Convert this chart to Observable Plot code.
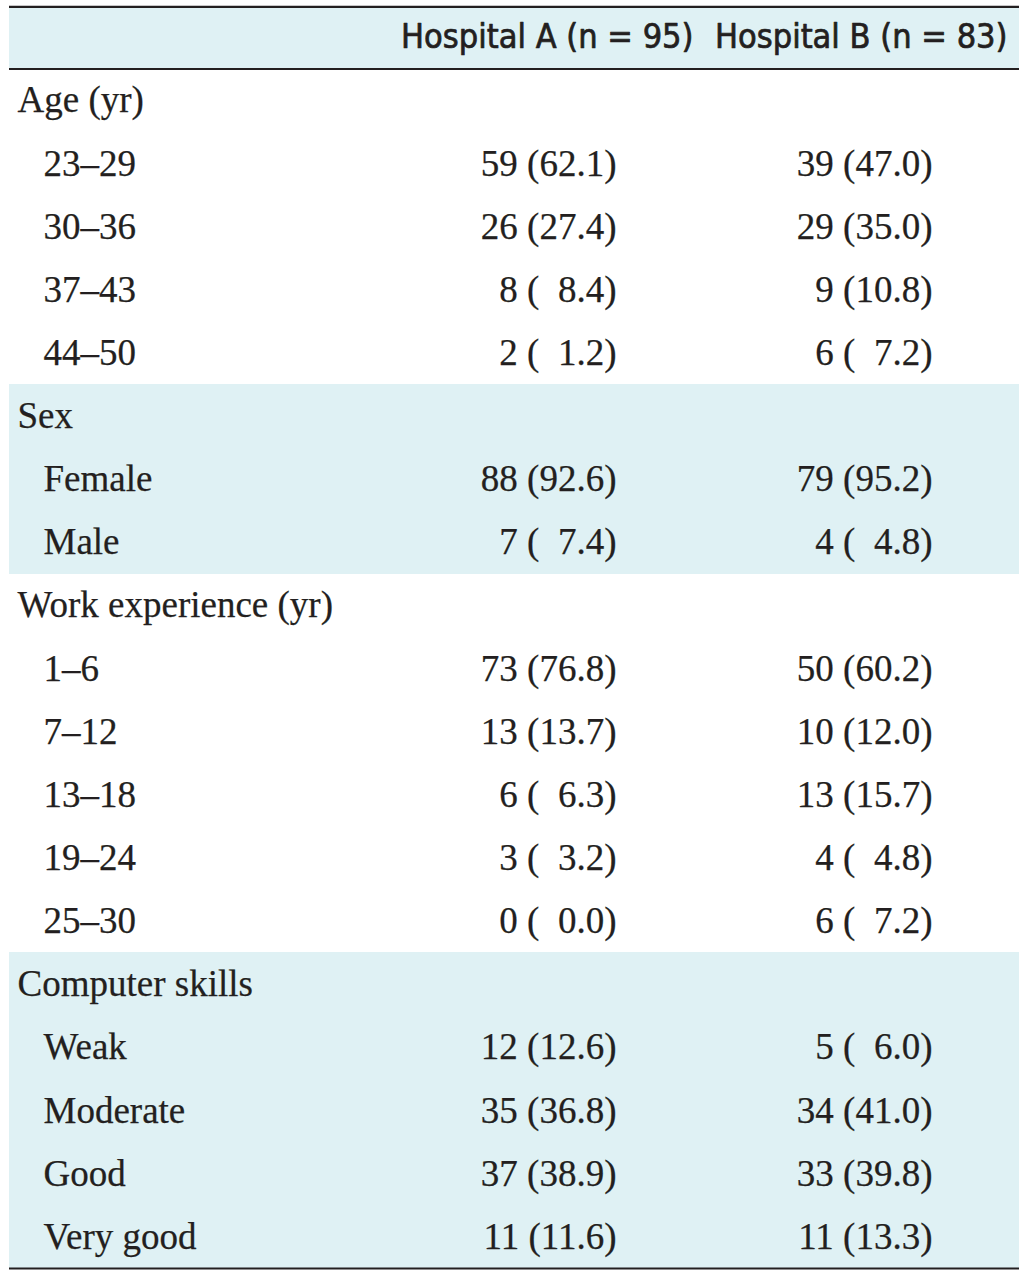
<!DOCTYPE html>
<html>
<head>
<meta charset="utf-8">
<script src="https://cdn.jsdelivr.net/npm/d3@7"></script>
<script src="https://cdn.jsdelivr.net/npm/@observablehq/plot@0.6"></script>
<style>
  html, body { margin: 0; padding: 0; background: #fff; }
</style>
</head>
<body>
<div id="chart"></div>
<script>
// ---- Data ----
const columnHeaders = ["Hospital A (n = 95)", "Hospital B (n = 83)"];

const groupLabels = ["Age (yr)", "Sex", "Work experience (yr)", "Computer skills"];
const groupShaded = [false, true, false, true];

const ageCats = ["23–29", "30–36", "37–43", "44–50"];
const ageNA = [59, 26, 8, 2];
const agePctA = [62.1, 27.4, 8.4, 1.2];
const ageNB = [39, 29, 9, 6];
const agePctB = [47.0, 35.0, 10.8, 7.2];

const sexCats = ["Female", "Male"];
const sexNA = [88, 7];
const sexPctA = [92.6, 7.4];
const sexNB = [79, 4];
const sexPctB = [95.2, 4.8];

const workCats = ["1–6", "7–12", "13–18", "19–24", "25–30"];
const workNA = [73, 13, 6, 3, 0];
const workPctA = [76.8, 13.7, 6.3, 3.2, 0.0];
const workNB = [50, 10, 13, 4, 6];
const workPctB = [60.2, 12.0, 15.7, 4.8, 7.2];

const skillCats = ["Weak", "Moderate", "Good", "Very good"];
const skillNA = [12, 35, 37, 11];
const skillPctA = [12.6, 36.8, 38.9, 11.6];
const skillNB = [5, 34, 33, 11];
const skillPctB = [6.0, 41.0, 39.8, 13.3];

// ---- Build table rows ----
const groups = [
  [ageCats, ageNA, agePctA, ageNB, agePctB],
  [sexCats, sexNA, sexPctA, sexNB, sexPctB],
  [workCats, workNA, workPctA, workNB, workPctB],
  [skillCats, skillNA, skillPctA, skillNB, skillPctB]
];
const FIG = "\u2007";
const fmt = (n, p) => `${n} (${p.toFixed(1).padStart(4, FIG)})`;

const rows = [];
groups.forEach(([cats, nA, pA, nB, pB], g) => {
  rows.push({i: rows.length, label: groupLabels[g], level: 0, shaded: groupShaded[g], a: "", b: ""});
  cats.forEach((c, k) => {
    rows.push({i: rows.length, label: c, level: 1, shaded: groupShaded[g], a: fmt(nA[k], pA[k]), b: fmt(nB[k], pB[k])});
  });
});
const nRows = rows.length;

// ---- Layout ----
const W = 1028, H = 1273;
const tableLeft = 9, tableRight = 1019;
const labelX = [17, 43];
const colRight = [616, 932];
const headRight = [693, 1007];
const bg = "#dff1f4";
const ink = "#231f20";
const serif = "'Liberation Serif', 'Times New Roman', serif";
const sans = "'DejaVu Sans Condensed', 'Liberation Sans Narrow', 'DejaVu Sans', sans-serif";

const shadedRows = rows.filter(d => d.shaded);
const headerCells = columnHeaders.map((t, j) => ({t, x: headRight[j]}));
const valueCells = rows.flatMap(d => [
  {i: d.i, t: d.a, x: colRight[0]},
  {i: d.i, t: d.b, x: colRight[1]}
]).filter(d => d.t);

const chart = Plot.plot({
  width: W,
  height: H,
  margin: 0,
  x: {type: "linear", domain: [0, W], range: [0, W], axis: null},
  y: {type: "linear", domain: [0, nRows], range: [68.5, 1268], axis: null},
  marks: [
    // header background
    Plot.rect([0], {x1: tableLeft, x2: tableRight, y1: -0.985, y2: 0, fill: bg}),
    // shaded group bands
    Plot.rect(shadedRows, {x1: tableLeft, x2: tableRight, y1: d => d.i, y2: d => d.i + 1, fill: bg, shapeRendering: "crispEdges"}),
    // rules
    Plot.ruleY([-0.985, 0, nRows], {x1: tableLeft, x2: tableRight, stroke: "#231f20", strokeWidth: 2.2}),
    // header text
    Plot.text(headerCells, {x: "x", y: -0.5, text: "t", textAnchor: "end", fontFamily: sans, fontSize: 34, fill: ink, stroke: ink, strokeWidth: 0.7}),
    // row labels
    Plot.text(rows, {x: d => labelX[d.level], y: d => d.i + 0.5, text: "label", textAnchor: "start", fontFamily: serif, fontSize: 37, fill: ink, stroke: ink, strokeWidth: 0.25}),
    // values
    Plot.text(valueCells, {x: "x", y: d => d.i + 0.5, text: "t", textAnchor: "end", fontFamily: serif, fontSize: 37, fill: ink, stroke: ink, strokeWidth: 0.25})
  ]
});

document.getElementById("chart").appendChild(chart);
</script>
</body>
</html>
